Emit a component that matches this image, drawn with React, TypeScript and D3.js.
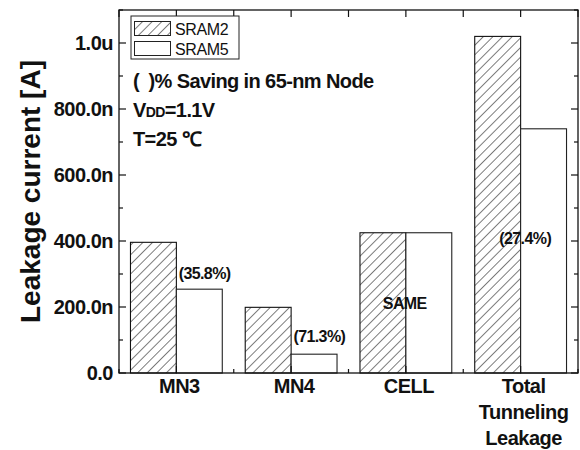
import React from "react";
import * as d3 from "d3";

// Leakage current per node for two SRAM cell designs
const categories = ["MN3", "MN4", "CELL", "Total Tunneling Leakage"];
const sram2 = [396e-9, 199e-9, 425e-9, 1020e-9];
const sram5 = [254e-9, 57e-9, 425e-9, 740e-9];
const savingLabels = ["(35.8%)", "(71.3%)", "SAME", "(27.4%)"];
const yTickValues = [0, 200e-9, 400e-9, 600e-9, 800e-9, 1000e-9];
const yTickLabels = ["0.0", "200.0n", "400.0n", "600.0n", "800.0n", "1.0u"];
const seriesNames = ["SRAM2", "SRAM5"];

const W = 580;
const H = 450;
const FONT = "'Liberation Sans', Arial, sans-serif";

export default function App() {
  const x = d3.scaleLinear().domain([0.5, 4.5]).range([119, 578]);
  const y = d3.scaleLinear().domain([0, 1.1e-6]).range([373, 10]);
  const barW = x(0.4) - x(0);

  const xL = x.range()[0];
  const xR = x.range()[1];
  const yB = y.range()[0];
  const yT = y.range()[1];

  const minorY = d3.range(0, 1.1e-6 + 1e-12, 100e-9);
  const halfX = d3.range(0.5, 4.5 + 1e-9, 0.5);

  // placement of each saving note: x in category units, anchor value, pixel nudge
  const notes = [
    { cx: 1.02, v: sram5[0], dy: -10, anchor: "start" },
    { cx: 2.02, v: sram5[1], dy: -12, anchor: "start" },
    { cx: 2.99, v: sram5[2] / 2, dy: 6, anchor: "middle" },
    { cx: 4.04, v: 400e-9, dy: 3, anchor: "middle" },
  ];

  return (
    <svg
      width={W}
      height={H}
      style={{ position: "absolute", left: 0, top: 0, background: "#fff" }}
      fontFamily={FONT}
    >
      <defs>
        <pattern
          id="hatch"
          patternUnits="userSpaceOnUse"
          width={6.8}
          height={6.8}
          patternTransform="rotate(45)"
        >
          <line x1={0} y1={0} x2={0} y2={6.8} stroke="#111" strokeWidth={1.1} />
        </pattern>
      </defs>

      {/* bars */}
      {categories.map((c, i) => (
        <g key={c}>
          <rect
            x={x(i + 1) - barW}
            y={y(sram2[i])}
            width={barW}
            height={yB - y(sram2[i])}
            fill="url(#hatch)"
            stroke="#111"
            strokeWidth={1.1}
          />
          <rect
            x={x(i + 1)}
            y={y(sram5[i])}
            width={barW}
            height={yB - y(sram5[i])}
            fill="#fff"
            stroke="#222"
            strokeWidth={1.1}
          />
        </g>
      ))}

      {/* saving notes */}
      {notes.map((n, k) => (
        <text
          key={k}
          x={x(n.cx)}
          y={y(n.v) + n.dy}
          textAnchor={n.anchor as any}
          fontSize={16}
          fontWeight="bold"
          letterSpacing={-0.6}
          fill="#111"
        >
          {savingLabels[k]}
        </text>
      ))}

      {/* frame */}
      <rect
        x={xL}
        y={yT}
        width={xR - xL}
        height={yB - yT}
        fill="none"
        stroke="#111"
        strokeWidth={1.3}
      />

      {/* left and right ticks */}
      {minorY.map((v, k) => {
        const major = k % 2 === 0;
        const len = major ? 7 : 4;
        return (
          <g key={k}>
            <line x1={xL} x2={xL + len} y1={y(v)} y2={y(v)} stroke="#111" strokeWidth={1.2} />
            <line x1={xR} x2={xR - len} y1={y(v)} y2={y(v)} stroke="#111" strokeWidth={1.2} />
          </g>
        );
      })}
      {yTickValues.map((v, k) => (
        <text
          key={k}
          x={xL - 6}
          y={y(v) + 7}
          textAnchor="end"
          fontSize={20}
          fontWeight="bold"
          letterSpacing={-0.5}
          fill="#111"
        >
          {yTickLabels[k]}
        </text>
      ))}

      {/* top and bottom ticks */}
      {halfX.map((v, k) => {
        const onCat = Number.isInteger(v);
        return (
          <g key={k}>
            <line x1={x(v)} x2={x(v)} y1={yT} y2={yT + 7} stroke="#111" strokeWidth={1.2} />
            <line
              x1={x(v)}
              x2={x(v)}
              y1={yB}
              y2={yB - (onCat ? 7 : 4)}
              stroke="#111"
              strokeWidth={1.2}
            />
          </g>
        );
      })}

      {/* category labels */}
      {categories.map((c, i) => {
        const words = i === 3 ? c.split(" ") : [c];
        return (
          <text
            key={c}
            x={x(i + 1) + 3}
            y={393}
            textAnchor="middle"
            fontSize={20}
            fontWeight="bold"
            letterSpacing={-0.5}
            fill="#111"
          >
            {words.map((w, j) => (
              <tspan key={w} x={x(i + 1) + 3} dy={j === 0 ? 0 : 26}>
                {w}
              </tspan>
            ))}
          </text>
        );
      })}

      {/* y axis title */}
      <text
        transform={`translate(40, ${(yT + yB) / 2}) rotate(-90)`}
        textAnchor="middle"
        fontSize={28}
        fontWeight="bold"
        fill="#111"
      >
        Leakage current [A]
      </text>

      {/* legend */}
      <rect x={131} y={16} width={108} height={43} fill="#fff" stroke="#222" strokeWidth={1} />
      {seriesNames.map((s, k) => (
        <g key={s}>
          <rect
            x={134.5}
            y={21.5 + k * 20}
            width={36}
            height={14}
            fill={k === 0 ? "url(#hatch)" : "#fff"}
            stroke="#222"
            strokeWidth={1}
          />
          <text x={175} y={35 + k * 20} fontSize={16} fill="#111" letterSpacing={-0.4}>
            {s}
          </text>
        </g>
      ))}

      {/* condition notes */}
      <g fontSize={20} fontWeight="bold" fill="#111" letterSpacing={-0.6}>
        <text x={133} y={88} style={{ whiteSpace: "pre" }}>
          {"(\u2002)% Saving in 65-nm Node"}
        </text>
        <text x={133} y={117}>
          V<tspan fontSize={14}>DD</tspan>=1.1V
        </text>
        <text x={133} y={146}>T=25 ℃</text>
      </g>
    </svg>
  );
}
